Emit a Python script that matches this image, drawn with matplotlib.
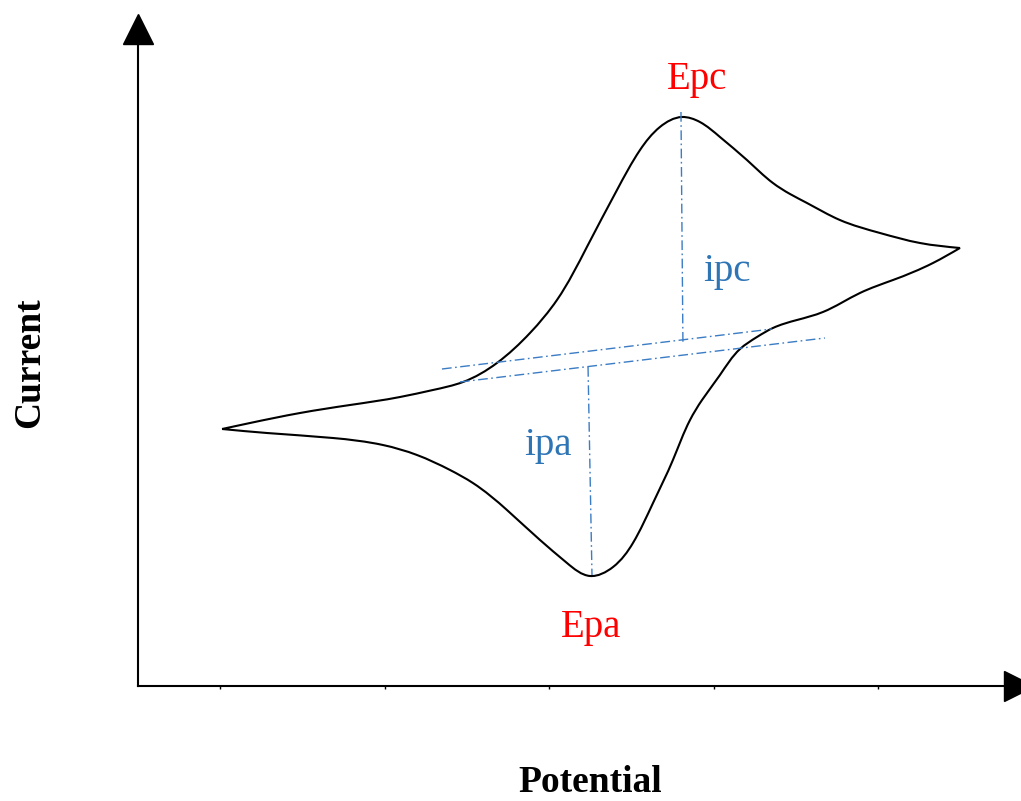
import matplotlib
matplotlib.use('Agg')
import matplotlib.pyplot as plt
import numpy as np
from matplotlib.path import Path
from matplotlib.patches import PathPatch

plt.rcParams['font.family'] = ['Liberation Serif', 'DejaVu Serif']
plt.rcParams['lines.scale_dashes'] = False

# cyclic voltammogram, upper branch (left vertex -> right vertex)
upper_potential = [0.511, 0.681, 0.985, 1.289, 1.593, 1.793, 1.976, 2.182, 2.383,
                   2.547, 2.729, 2.912, 3.052, 3.173, 3.307, 3.416, 3.538, 3.702,
                   3.860, 3.964, 4.067, 4.267, 4.511, 4.754, 4.997]
upper_current = [2.57, 2.63, 2.73, 2.81, 2.89, 2.96, 3.04, 3.23, 3.53,
                 3.86, 4.39, 4.96, 5.36, 5.59, 5.69, 5.64, 5.49, 5.26,
                 5.03, 4.92, 4.83, 4.66, 4.53, 4.43, 4.38]

# lower branch (right vertex -> left vertex)
lower_potential = [4.997, 4.833, 4.590, 4.389, 4.164, 4.006, 3.860, 3.763, 3.660,
                   3.538, 3.429, 3.356, 3.252, 3.131, 3.009, 2.888, 2.748, 2.608,
                   2.444, 2.243, 2.036, 1.897, 1.696, 1.489, 1.185, 0.784, 0.511]
lower_current = [4.38, 4.23, 4.06, 3.93, 3.74, 3.66, 3.58, 3.49, 3.37,
                 3.11, 2.86, 2.66, 2.26, 1.83, 1.43, 1.19, 1.10, 1.23,
                 1.46, 1.76, 2.03, 2.16, 2.31, 2.41, 2.48, 2.53, 2.57]

# extrapolated baselines and peak-current drop lines
base_c_x = [1.848, 3.854]
base_c_y = [3.17, 3.57]
base_a_x = [1.957, 4.176]
base_a_y = [3.04, 3.48]
ipc_x = [3.301, 3.313]
ipc_y = [5.74, 3.41]
ipa_x = [2.736, 2.760]
ipa_y = [3.19, 1.11]

# annotation positions
labels = ['Epc', 'ipc', 'ipa', 'Epa']
label_x = [3.398, 3.581, 2.492, 2.754]
label_y = [6.07, 4.15, 2.40, 0.58]
label_colors = ['#ff0000', '#2e75b6', '#2e75b6', '#ff0000']

x_ticks = [0.5, 1.5, 2.5, 3.5, 4.5]

XLIM = (0, 5.356)
YLIM = (0, 6.43)
PX_X = 164.5   # pixels per potential unit
PX_Y = 100.0   # pixels per current unit


def spline_segments(x, y):
    # natural cubic spline (chord-length parameter) as cubic Bezier pieces
    scale = np.array([PX_X, PX_Y])
    P = np.column_stack([x, y]) * scale
    n = len(P) - 1
    h = np.linalg.norm(np.diff(P, axis=0), axis=1)
    A = np.zeros((n + 1, n + 1))
    rhs = np.zeros((n + 1, 2))
    A[0, 0] = A[n, n] = 1.0
    for i in range(1, n):
        A[i, i - 1] = h[i - 1]
        A[i, i] = 2 * (h[i - 1] + h[i])
        A[i, i + 1] = h[i]
        rhs[i] = 6 * ((P[i + 1] - P[i]) / h[i] - (P[i] - P[i - 1]) / h[i - 1])
    M = np.linalg.solve(A, rhs)
    verts, codes = [], []
    for i in range(n):
        slope = (P[i + 1] - P[i]) / h[i]
        d0 = slope - h[i] * (2 * M[i] + M[i + 1]) / 6
        d1 = slope + h[i] * (M[i] + 2 * M[i + 1]) / 6
        verts += [(P[i] + h[i] * d0 / 3) / scale,
                  (P[i + 1] - h[i] * d1 / 3) / scale,
                  P[i + 1] / scale]
        codes += [Path.CURVE4] * 3
    return verts, codes


fig = plt.figure(figsize=(10.21, 8.01), dpi=100)
ax = fig.add_axes([138 / 1021, 115 / 801, 881 / 1021, 643 / 801])
ax.set_xlim(*XLIM)
ax.set_ylim(*YLIM)

v1, c1 = spline_segments(upper_potential, upper_current)
v2, c2 = spline_segments(lower_potential, lower_current)
verts = [(upper_potential[0], upper_current[0])] + v1 + v2
codes = [Path.MOVETO] + c1 + c2
ax.add_patch(PathPatch(Path(verts, codes), facecolor='none', edgecolor='black',
                       lw=1.5, joinstyle='miter'))

dash = (0, (7, 2.5, 1.2, 2.5))
for xs, ys in [(base_c_x, base_c_y), (base_a_x, base_a_y), (ipc_x, ipc_y), (ipa_x, ipa_y)]:
    ax.plot(xs, ys, color='#3b7cc4', lw=1.0, linestyle=dash)

for t, x, y, c in zip(labels, label_x, label_y, label_colors):
    ax.text(x, y, t, color=c, fontsize=28, ha='center', va='center')

# axes drawn as arrows
for side in ['top', 'right']:
    ax.spines[side].set_visible(False)
for side in ['left', 'bottom']:
    ax.spines[side].set_linewidth(1.5)
    ax.spines[side].set_color('black')
ax.plot([0], [6.57], marker='^', ms=22, color='black', clip_on=False)
ax.plot([XLIM[1]], [0], marker='>', ms=22, color='black', clip_on=False)

ax.set_xticks(x_ticks)
ax.set_xticklabels([])
ax.set_yticks([])
ax.tick_params(axis='x', direction='out', length=2.5, width=1, color='black')

fig.text(30 / 1021, 1 - 363 / 801, 'Current', rotation=90, fontsize=27,
         fontweight='bold', ha='center', va='center')
fig.text(590 / 1021, 1 - 792 / 801, 'Potential', fontsize=27,
         fontweight='bold', ha='center', va='baseline')

fig.savefig('out.png', dpi=100)
